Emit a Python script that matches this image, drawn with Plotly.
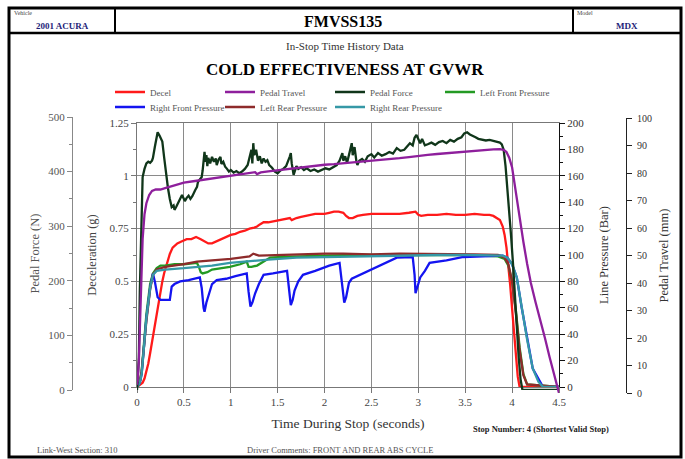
import plotly.graph_objects as go

# ---------------- data ----------------
dc_time = [0.00,0.03,0.06,0.08,0.10,0.12,0.14,0.17,0.19,0.21,
           0.23,0.25,0.27,0.29,0.32,0.35,0.38,0.43,0.48,0.53,
           0.58,0.63,0.68,0.72,0.76,0.80,0.85,0.90,0.95,1.00,
           1.05,1.10,1.15,1.20,1.25,1.28,1.31,1.35,1.40,1.45,
           1.50,1.55,1.60,1.63,1.65,1.70,1.75,1.80,1.85,1.90,
           1.95,2.00,2.05,2.10,2.15,2.20,2.23,2.26,2.30,2.35,
           2.41,2.50,2.60,2.70,2.80,2.90,2.97,3.00,3.03,3.10,
           3.20,3.30,3.40,3.50,3.60,3.70,3.76,3.80,3.84,3.87,
           3.90,3.92,3.94,3.96,3.98,4.00,4.02,4.04,4.06,4.08,
           4.50]
dc_g = [0,0.01,0.02,0.04,0.07,0.11,0.16,0.24,0.30,0.36,
        0.41,0.45,0.50,0.54,0.59,0.63,0.66,0.68,0.69,0.70,
        0.70,0.71,0.70,0.69,0.68,0.68,0.69,0.70,0.71,0.72,
        0.725,0.735,0.74,0.75,0.755,0.76,0.77,0.78,0.78,0.785,
        0.79,0.795,0.80,0.80,0.79,0.80,0.805,0.81,0.815,0.82,
        0.82,0.82,0.825,0.83,0.83,0.825,0.81,0.80,0.80,0.81,
        0.815,0.82,0.82,0.82,0.82,0.825,0.83,0.815,0.81,0.815,
        0.815,0.82,0.815,0.815,0.82,0.815,0.815,0.81,0.80,0.79,
        0.76,0.72,0.66,0.58,0.48,0.37,0.25,0.14,0.05,0.0,
        0]

pt_time = [0.00,0.01,0.02,0.03,0.04,0.05,0.06,0.08,0.10,0.13,
           0.16,0.20,0.25,0.30,0.40,0.50,0.60,0.70,0.80,0.90,
           1.00,1.10,1.20,1.26,1.28,1.32,1.40,1.50,1.60,1.70,
           1.80,1.90,2.00,2.10,2.20,2.30,2.40,2.50,2.60,2.70,
           2.80,2.90,3.00,3.10,3.20,3.30,3.40,3.50,3.60,3.70,
           3.80,3.87,3.91,3.94,3.97,4.00,4.04,4.08,4.12,4.16,
           4.20,4.25,4.30,4.35,4.40,4.45,4.50]
pt_mm = [3,6,12,22,36,48,56,65,69,72,
         73.5,74,74,74.5,75.5,76.5,77,77.5,78,78.5,
         79,79.5,80,80.3,79.6,80.2,80.6,81,81.5,81.8,
         82.2,82.5,83,83.2,83.5,83.8,84,84.3,84.6,85,
         85.4,85.8,86.3,86.6,86.9,87.2,87.5,87.9,88.1,88.4,
         88.6,88.7,88.4,87.6,85.5,82,73,63,55,47,
         40,33,27,20,13,6,0]

pf_time = [0.00,0.02,0.03,0.05,0.06,0.08,0.10,0.12,0.14,0.16,
           0.17,0.19,0.21,0.22,0.24,0.25,0.27,0.29,0.30,0.32,
           0.33,0.35,0.37,0.39,0.40,0.42,0.44,0.46,0.48,0.50,
           0.51,0.53,0.55,0.57,0.59,0.62,0.64,0.65,0.67,0.69,
           0.70,0.71,0.72,0.73,0.74,0.75,0.76,0.78,0.80,0.82,
           0.84,0.85,0.87,0.89,0.90,0.92,0.94,0.96,0.98,1.00,
           1.03,1.06,1.09,1.12,1.15,1.18,1.20,1.22,1.23,1.24,
           1.25,1.27,1.29,1.31,1.33,1.35,1.37,1.39,1.41,1.44,
           1.47,1.50,1.53,1.56,1.59,1.61,1.63,1.64,1.65,1.67,
           1.68,1.70,1.72,1.75,1.78,1.81,1.85,1.89,1.93,1.97,
           2.01,2.05,2.09,2.13,2.16,2.19,2.20,2.22,2.24,2.26,
           2.28,2.29,2.30,2.32,2.34,2.35,2.37,2.40,2.43,2.46,
           2.50,2.53,2.57,2.61,2.65,2.69,2.73,2.77,2.81,2.85,
           2.88,2.91,2.94,2.96,2.98,3.00,3.02,3.04,3.07,3.10,
           3.14,3.18,3.22,3.26,3.30,3.34,3.38,3.42,3.46,3.49,
           3.52,3.55,3.58,3.61,3.64,3.68,3.72,3.76,3.80,3.84,
           3.87,3.89,3.91,3.93,3.95,3.97,3.99,4.01,4.03,4.05,
           4.07,4.09,4.11,4.50]
pf_n = [0,60,180,330,390,405,415,418,416,420,
        425,445,463,472,466,462,455,425,408,385,
        370,350,335,338,330,336,344,352,357,350,
        346,352,356,350,355,366,372,381,386,390,
        402,420,436,418,430,410,425,415,427,418,
        424,412,422,427,414,418,409,405,400,403,
        398,401,397,400,405,412,425,440,415,452,
        430,440,420,428,415,424,418,421,412,407,
        400,397,402,405,410,418,428,434,415,394,
        400,410,405,408,403,406,401,404,400,403,
        406,404,408,412,420,434,420,428,416,430,
        440,452,430,445,418,412,420,423,418,428,
        432,426,434,429,432,436,433,443,438,440,
        446,452,448,462,467,458,452,460,448,450,
        453,449,454,456,452,458,455,460,463,470,
        472,468,466,463,460,459,457,458,456,455,
        453,450,440,410,370,330,280,230,170,115,
        60,20,0,0]

lf_time = [0.00,0.03,0.05,0.07,0.10,0.14,0.17,0.21,0.25,0.30,
           0.40,0.50,0.60,0.64,0.66,0.68,0.70,0.75,0.80,0.90,
           0.99,1.10,1.17,1.19,1.22,1.28,1.35,1.42,1.55,1.70,
           2.00,2.30,2.60,3.00,3.50,3.85,3.92,3.96,4.00,4.04,
           4.08,4.12,4.16,4.50]
lf_bar = [0,4,12,30,55,78,86,90,92,92,
          93,93,94,94,91,87,86,87,89,90,
          91,93,95,91,91,92,95,98,98.5,99,
          99.5,100,100,100,100,99,97,92,80,58,
          30,10,2,0]

rf_time = [0.00,0.03,0.05,0.07,0.10,0.14,0.17,0.19,0.22,0.25,
           0.35,0.37,0.40,0.46,0.55,0.67,0.69,0.71,0.72,0.74,
           0.77,0.80,0.85,0.95,1.05,1.17,1.19,1.21,1.23,1.26,
           1.30,1.35,1.45,1.60,1.62,1.64,1.66,1.68,1.72,1.77,
           1.90,2.05,2.16,2.19,2.21,2.23,2.26,2.29,2.35,2.41,
           2.60,2.77,2.94,2.96,2.97,2.99,3.02,3.07,3.12,3.30,
           3.48,3.90,3.95,4.00,4.05,4.10,4.16,4.22,4.33,4.50]
rf_bar = [0,3,10,28,52,75,86,80,68,66,
          66,76,78,80,81,83,75,60,57,64,
          72,78,81,82,84,86,72,61,64,71,
          78,85,86,88,75,62,66,73,80,85,
          88,92,94,78,64,68,79,82,84,86,
          92,98,98.5,85,71,76,83,88,94,96,
          98.5,99.5,98,93,83,61,36,14,0,0]

lr_time = [0.00,0.03,0.05,0.07,0.10,0.14,0.17,0.21,0.30,0.50,
           0.64,0.80,1.00,1.20,1.24,1.30,1.50,1.80,2.00,2.20,
           2.50,2.80,3.00,3.30,3.60,3.85,3.92,3.96,4.00,4.04,
           4.08,4.12,4.16,4.50]
lr_bar = [0,4,12,27,50,74,85,89,91,93,
          95,96,97,99,101,99.5,100,100.5,101,101,
          100.5,101,101,100.5,100.5,100,98,93,80,56,
          28,9,2,0]

rr_time = [0.00,0.03,0.05,0.07,0.10,0.14,0.17,0.21,0.30,0.50,
           0.64,0.80,0.99,1.20,1.40,1.70,2.00,2.41,2.80,3.20,
           3.50,3.90,3.95,4.00,4.05,4.10,4.16,4.22,4.28,4.33,
           4.50]
rr_bar = [0,3,10,28,52,75,85,88,89,90,
          91,92,94,95,96.5,98,98.5,99,99.5,100,
          100,99.5,98,93,83,61,36,14,4,0,
          0]

for a, b in [(dc_time, dc_g), (pt_time, pt_mm), (pf_time, pf_n), (lf_time, lf_bar),
             (rf_time, rf_bar), (lr_time, lr_bar), (rr_time, rr_bar)]:
    assert len(a) == len(b), (len(a), len(b))

x_ticks = [0, 0.5, 1, 1.5, 2, 2.5, 3, 3.5, 4, 4.5]

# ---------------- layout helpers ----------------
W, H = 685, 459
ML, MR, MT, MB = 20, 20, 20, 20
PW, PH = W - ML - MR, H - MT - MB


def fx(px):
    return (px - ML) / PW


def fy(py):
    return (H - MB - py) / PH


SERIF = "Liberation Serif"
GRID = "#8a8a8a"
LW = 2.3

series = [
    ("Decel", dc_time, dc_g, "#ff1a1a", "x", "y", "legend"),
    ("Pedal Travel", pt_time, pt_mm, "#8e1f9c", "x4", "y4", "legend"),
    ("Pedal Force", pf_time, pf_n, "#10361a", "x3", "y3", "legend"),
    ("Left Front Pressure", lf_time, lf_bar, "#239a23", "x", "y2", "legend"),
    ("Right Front Pressure", rf_time, rf_bar, "#1414f0", "x", "y2", "legend2"),
    ("Left Rear Pressure", lr_time, lr_bar, "#8e2b2b", "x", "y2", "legend2"),
    ("Right Rear Pressure", rr_time, rr_bar, "#3598a6", "x", "y2", "legend3"),
]

fig = go.Figure()
for name, xs, ys, col, xax, yax, leg in series:
    fig.add_trace(go.Scatter(x=xs, y=ys, name=name, mode="lines",
                             line=dict(color=col, width=LW),
                             xaxis=xax, yaxis=yax, legend=leg))

tickfont = dict(family=SERIF, size=11, color="#444")
titlefont = dict(family=SERIF, size=12.5, color="#444")

xdom = [fx(137), fx(559)]
hidden_x = dict(domain=xdom, range=[0, 4.5], visible=False, showgrid=False,
                zeroline=False, fixedrange=True)

legend_common = dict(orientation="h", xanchor="left", yanchor="middle",
                     font=dict(family=SERIF, size=9, color="#555"),
                     entrywidthmode="pixels", itemwidth=30,
                     bgcolor="rgba(0,0,0,0)", borderwidth=0)

fig.update_layout(
    width=W, height=H,
    margin=dict(l=ML, r=MR, t=MT, b=MB),
    paper_bgcolor="white", plot_bgcolor="rgba(0,0,0,0)",
    showlegend=True,
    xaxis=dict(domain=xdom, range=[0, 4.5], tickvals=x_ticks, anchor="y",
               showgrid=True, gridcolor=GRID, gridwidth=1,
               zeroline=False, showline=True, linecolor="#777",
               linewidth=1, mirror=True, ticks="outside", ticklen=5, tickcolor="#777",
               tickfont=tickfont,
               title=dict(text="Time During Stop (seconds)",
                          font=dict(family=SERIF, size=13.5, color="#333"),
                          standoff=11)),
    xaxis3=dict(hidden_x, anchor="y3"),
    xaxis4=dict(hidden_x, anchor="y4"),
    yaxis=dict(domain=[fy(387), fy(123)], range=[0, 1.25], dtick=0.25,
               anchor="x", showgrid=True, gridcolor=GRID, gridwidth=1,
               zeroline=False, showline=True, linecolor="#777", linewidth=1,
               ticks="outside", ticklen=5, tickcolor="#777",
               minor=dict(dtick=0.125, ticks="outside", ticklen=3, tickcolor="#777", showgrid=False),
               tickfont=tickfont,
               title=dict(text="Deceleration (g)", font=titlefont, standoff=10)),
    yaxis2=dict(overlaying="y", side="right", anchor="x", range=[0, 200], dtick=20,
                showgrid=False, zeroline=False, showline=True, linecolor="#111",
                linewidth=1, ticks="outside", ticklen=5, tickcolor="#111",
                minor=dict(dtick=10, ticks="outside", ticklen=3, tickcolor="#111"),
                tickfont=dict(family=SERIF, size=11, color="#333"),
                title=dict(text="Line Pressure (Bar)", font=dict(family=SERIF, size=12.5, color="#333"),
                           standoff=16)),
    yaxis5=dict(overlaying="y", side="right", anchor="x", range=[0, 200], dtick=20,
                showgrid=False, zeroline=False, showline=False, showticklabels=False,
                ticks="inside", ticklen=5, tickcolor="#111",
                minor=dict(dtick=10, ticks="inside", ticklen=3, tickcolor="#111")),
    yaxis3=dict(domain=[fy(390), fy(117)], anchor="free", position=fx(72), side="left",
                range=[0, 500], dtick=100, showgrid=False, zeroline=False,
                showline=True, linecolor="#888", linewidth=1,
                ticks="outside", ticklen=5, tickcolor="#888",
                minor=dict(dtick=50, ticks="outside", ticklen=3, tickcolor="#888"),
                tickfont=dict(family=SERIF, size=11, color="#555"),
                title=dict(text="Pedal Force (N)", font=dict(family=SERIF, size=12.5, color="#555"),
                           standoff=4)),
    yaxis4=dict(domain=[fy(393), fy(118)], anchor="free", position=fx(626), side="right",
                range=[0, 100], dtick=10, showgrid=False, zeroline=False,
                showline=True, linecolor="#222", linewidth=1,
                ticks="outside", ticklen=5, tickcolor="#222", ticklabelstandoff=3,
                tickfont=dict(family=SERIF, size=10, color="#333"),
                title=dict(text="Pedal Travel (mm)", font=dict(family=SERIF, size=12.5, color="#333"),
                           standoff=8)),
    yaxis6=dict(overlaying="y4", anchor="free", position=fx(626), side="right",
                range=[0, 100], dtick=10, showgrid=False, zeroline=False,
                showline=False, showticklabels=False,
                ticks="inside", ticklen=5, tickcolor="#222"),
    legend=dict(legend_common, x=fx(110), y=fy(92), entrywidth=65),
    legend2=dict(legend_common, x=fx(110), y=fy(107), entrywidth=65),
    legend3=dict(legend_common, x=fx(330), y=fy(107), entrywidth=100),
)

# ---------------- page frame / header ----------------
shapes = [
    dict(type="rect", xref="paper", yref="paper", x0=fx(9), x1=fx(681), y0=fy(457), y1=fy(8),
         line=dict(color="black", width=3), fillcolor="rgba(0,0,0,0)"),
    dict(type="line", xref="paper", yref="paper", x0=fx(9), x1=fx(681), y0=fy(33), y1=fy(33),
         line=dict(color="black", width=2.5)),
    dict(type="line", xref="paper", yref="paper", x0=fx(115), x1=fx(115), y0=fy(9), y1=fy(33),
         line=dict(color="black", width=2)),
    dict(type="line", xref="paper", yref="paper", x0=fx(573), x1=fx(573), y0=fy(9), y1=fy(33),
         line=dict(color="black", width=2)),
]
fig.update_layout(shapes=shapes)


def note(text, px, py, size, color="#333", bold=False, xanchor="center"):
    fig.add_annotation(text=f"<b>{text}</b>" if bold else text, xref="paper", yref="paper",
                       x=fx(px), y=fy(py), xanchor=xanchor, yanchor="middle", showarrow=False,
                       font=dict(family=SERIF, size=size, color=color))


note("Vehicle", 12, 13, 6, "#444", xanchor="left")
note("2001 ACURA", 62, 26, 9, "#1e1e78", bold=True)
note("FMVSS135", 343, 21, 16, "black", bold=True)
note("Model", 575, 13, 6, "#444", xanchor="left")
note("MDX", 627, 26, 9, "#1e1e78", bold=True)
note("In-Stop Time History Data", 345, 46, 11, "#333")
note("COLD EFFECTIVENESS AT GVWR", 345, 69, 17, "black", bold=True)
note("Stop Number: 4 (Shortest Valid Stop)", 541, 429, 8.5, "#222", bold=True)
note("Link-West Section: 310", 35, 450, 8.5, "#555", xanchor="left")
note("Driver Comments: FRONT AND REAR ABS CYCLE", 245, 450, 8.5, "#555", xanchor="left")

fig.write_html("out.html")
